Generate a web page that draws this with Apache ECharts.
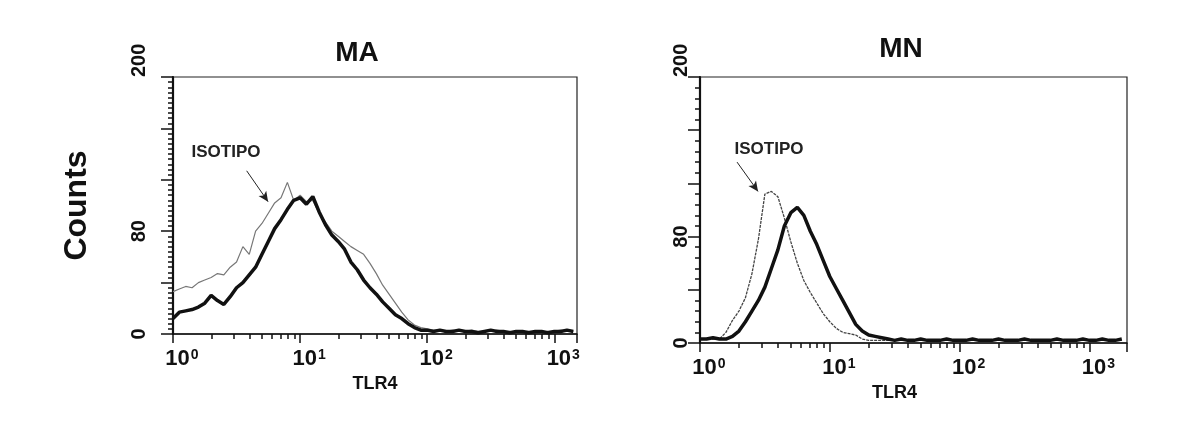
<!DOCTYPE html>
<html>
<head>
<meta charset="utf-8">
<script src="https://cdn.jsdelivr.net/npm/echarts@6/dist/echarts.min.js"></script>
<style>
html, body { margin: 0; padding: 0; background: #fff; }
#main { width: 1177px; height: 439px; }
</style>
</head>
<body>
<div id="main"></div>
<script>
// 直方图的通道位置（log10 单位）
var logBins = [
  0.00, 0.05, 0.10, 0.15, 0.20, 0.25, 0.30, 0.35, 0.40, 0.45,
  0.50, 0.55, 0.60, 0.65, 0.70, 0.75, 0.80, 0.85, 0.90, 0.95,
  1.00, 1.05, 1.10, 1.15, 1.20, 1.25, 1.30, 1.35, 1.40, 1.45,
  1.50, 1.55, 1.60, 1.65, 1.70, 1.75, 1.80, 1.85, 1.90, 1.95,
  2.00, 2.05, 2.10, 2.15, 2.20, 2.25, 2.30, 2.35, 2.40, 2.45,
  2.50, 2.55, 2.60, 2.65, 2.70, 2.75, 2.80, 2.85, 2.90, 2.95,
  3.00, 3.05, 3.10, 3.15, 3.20, 3.25
];

// MA
var maTLR4 = [
  12, 17, 18, 19, 21, 24, 30, 26, 23, 29,
  36, 40, 46, 52, 62, 72, 82, 89, 97, 104,
  106, 101, 107, 95, 85, 77, 72, 66, 56, 50,
  42, 36, 31, 25, 20, 15, 12, 8, 5, 3,
  3, 2, 3, 2, 2, 3, 2, 2, 1, 2,
  3, 2, 2, 1, 2, 2, 1, 2, 2, 1,
  2, 2, 3, 2
];
var maIsotipo = [
  33, 35, 37, 36, 40, 42, 44, 47, 46, 52,
  56, 68, 62, 80, 86, 94, 102, 106, 118, 104,
  108, 103, 104, 94, 87, 80, 76, 72, 68, 65,
  62, 55, 47, 38, 31, 24, 17, 11, 7, 5,
  4, 3, 3, 2, 3, 2, 2, 3, 2, 2,
  2, 3, 2, 2, 1, 2, 2, 2, 1, 2,
  2, 3, 2, 2
];

// MN
var mnTLR4 = [
  3, 3, 4, 3, 3, 5, 9, 16, 24, 32,
  42, 56, 70, 88, 98, 102, 96, 84, 74, 62,
  50, 41, 32, 23, 14, 9, 6, 5, 4, 3,
  2, 3, 2, 2, 3, 2, 2, 2, 3, 2,
  2, 2, 3, 2, 2, 2, 3, 2, 2, 2,
  3, 2, 2, 2, 2, 3, 2, 2, 2, 3,
  2, 2, 3, 2, 2, 3
];
var mnIsotipo = [
  3, 3, 3, 3, 8, 17, 24, 34, 52, 78,
  112, 114, 110, 94, 76, 60, 47, 38, 30, 22,
  16, 11, 8, 7, 6, 3, 2, 2, 2, 2,
  2, 2, 2, 2, 2, 2, 2, 2, 2, 2,
  2, 2, 2, 2, 2, 2, 2, 2, 2, 2,
  2, 2, 2, 2, 2, 2, 2, 2, 2, 2,
  2, 2, 2, 2, 2, 2
];

var yLabelValues = [0, 80, 200];
var panelTitles = ['MA', 'MN'];

// 箭头（数据坐标）
var maArrow = [[3.8, 127], [5.6, 103]];
var mnArrow = [[1.93, 136], [2.8, 114]];

function toPairs(vals) {
  return vals.map(function (v, i) { return [Math.pow(10, logBins[i]), v]; });
}

var font = '"Liberation Sans", Arial, sans-serif';

function xLabel(v) {
  var e = Math.log(v) / Math.LN10;
  if (Math.abs(e - Math.round(e)) > 1e-6) return '';
  return '{b|10}{s|' + Math.round(e) + '}';
}
function yLabel(v) {
  return yLabelValues.indexOf(v) >= 0 ? String(v) : '';
}

function makeX(idx, max, gap, pad) {
  return {
    type: 'log', logBase: 10, gridIndex: idx, min: 1, max: max,
    name: 'TLR4', nameLocation: 'middle', nameGap: gap,
    nameTextStyle: { fontFamily: font, fontWeight: 'bold', fontSize: 18, color: '#111', padding: pad },
    axisLine: { show: true, lineStyle: { color: '#111', width: 1.5 } },
    axisTick: { show: true, inside: false, length: 9, lineStyle: { color: '#111', width: 1.5 } },
    minorTick: { show: true, splitNumber: 9, length: 5, lineStyle: { color: '#111', width: 1.5 } },
    splitLine: { show: false },
    axisLabel: {
      formatter: xLabel, margin: 14, padding: [0, 0, 0, 18],
      rich: {
        b: { fontFamily: font, fontWeight: 'bold', fontSize: 22, color: '#111' },
        s: { fontFamily: font, fontWeight: 'bold', fontSize: 14, color: '#111', verticalAlign: 'top', padding: [0, 0, 8, 1] }
      }
    }
  };
}

function makeY(idx, minorSplit, margin, name) {
  return {
    type: 'value', gridIndex: idx, min: 0, max: 200, interval: 40,
    name: name, nameLocation: 'middle', nameRotate: 90, nameGap: 80,
    nameTextStyle: { fontFamily: font, fontWeight: 'bold', fontSize: 32, color: '#111' },
    axisLine: { show: true, lineStyle: { color: '#111', width: 2.2 } },
    axisTick: { show: true, inside: false, length: 12, lineStyle: { color: '#111', width: 1.5 } },
    minorTick: { show: true, splitNumber: minorSplit, length: 5, lineStyle: { color: '#111', width: 1.5 } },
    splitLine: { show: false },
    axisLabel: {
      formatter: yLabel, rotate: 90, margin: margin, alignMaxLabel: 'left',
      fontFamily: font, fontWeight: 'bold', fontSize: 20, color: '#111'
    }
  };
}

function arrowLine(pts) {
  return {
    silent: true, symbol: ['none', 'arrow'], symbolSize: [7, 10],
    lineStyle: { color: '#222', width: 1, type: 'solid' },
    label: { show: false },
    data: [[{ coord: pts[0] }, { coord: pts[1] }]]
  };
}

var myChart = echarts.init(document.getElementById('main'), null, { renderer: 'canvas' });

var option = {
  backgroundColor: '#fff',
  animation: false,
  grid: [
    { left: 173, top: 77, width: 404, height: 257, show: true, borderColor: '#222', borderWidth: 1.2, backgroundColor: 'transparent' },
    { left: 700, top: 77, width: 427, height: 266, show: true, borderColor: '#222', borderWidth: 1.2, backgroundColor: 'transparent' }
  ],
  xAxis: [makeX(0, 1510, 40, [0, 0, 0, 0]), makeX(1, 1950, 38, [0, 38, 0, 0])],
  yAxis: [makeY(0, 10, 24, 'Counts'), makeY(1, 5, 9, '')],
  graphic: [
    { type: 'text', x: 357, y: 53, style: { text: panelTitles[0], font: 'bold 28px ' + font, fill: '#111', textAlign: 'center', textVerticalAlign: 'middle' } },
    { type: 'text', x: 901, y: 49, style: { text: panelTitles[1], font: 'bold 28px ' + font, fill: '#111', textAlign: 'center', textVerticalAlign: 'middle' } },
    { type: 'text', x: 226, y: 152, style: { text: 'ISOTIPO', font: 'bold 17px ' + font, fill: '#222', textAlign: 'center', textVerticalAlign: 'middle' } },
    { type: 'text', x: 769, y: 149, style: { text: 'ISOTIPO', font: 'bold 17px ' + font, fill: '#222', textAlign: 'center', textVerticalAlign: 'middle' } }
  ],
  series: [
    {
      name: 'ISOTIPO MA', type: 'line', xAxisIndex: 0, yAxisIndex: 0,
      data: toPairs(maIsotipo), showSymbol: false,
      lineStyle: { color: '#777', width: 1.2 },
      markLine: arrowLine(maArrow)
    },
    {
      name: 'TLR4 MA', type: 'line', xAxisIndex: 0, yAxisIndex: 0,
      data: toPairs(maTLR4), showSymbol: false,
      lineStyle: { color: '#111', width: 3.5 }
    },
    {
      name: 'ISOTIPO MN', type: 'line', xAxisIndex: 1, yAxisIndex: 1,
      data: toPairs(mnIsotipo), showSymbol: false,
      lineStyle: { color: '#444', width: 1.3, type: [3, 1] },
      markLine: arrowLine(mnArrow)
    },
    {
      name: 'TLR4 MN', type: 'line', xAxisIndex: 1, yAxisIndex: 1,
      data: toPairs(mnTLR4), showSymbol: false,
      lineStyle: { color: '#111', width: 3.5 }
    }
  ]
};

myChart.setOption(option);
</script>
</body>
</html>
